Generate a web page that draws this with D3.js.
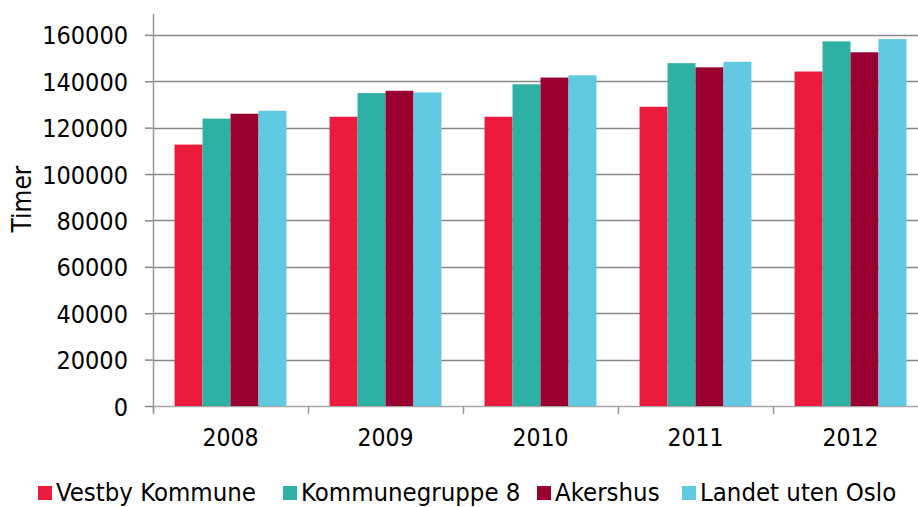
<!DOCTYPE html>
<html>
<head>
<meta charset="utf-8">
<script src="https://cdn.jsdelivr.net/npm/d3@7"></script>
<style>
  body { margin: 0; background: #fff; }
  text { font-family: "DejaVu Sans Condensed", "DejaVu Sans", sans-serif; fill: #000; }
</style>
</head>
<body>
<script>
var years = ["2008", "2009", "2010", "2011", "2012"];
var seriesNames = ["Vestby Kommune", "Kommunegruppe 8", "Akershus", "Landet uten Oslo"];
var vestby = [112700, 124700, 124700, 129000, 144200];
var gruppe8 = [123900, 134900, 138700, 147800, 157200];
var akershus = [126000, 135900, 141600, 146000, 152500];
var landet = [127300, 135200, 142600, 148400, 158200];
var yTicks = [0, 20000, 40000, 60000, 80000, 100000, 120000, 140000, 160000];
var colors = ["#ED1B3B", "#2EB0A4", "#990030", "#62C9E2"];

var seriesValues = [vestby, gruppe8, akershus, landet];
var data = years.map(function(yr, i) {
  return { year: yr, values: seriesNames.map(function(s, j) { return { name: s, value: seriesValues[j][i], color: colors[j] }; }) };
});

var width = 918, height = 507;
var plotLeft = 153, plotRight = 928, plotTop = 14, plotBottom = 406;

var svg = d3.select("body").append("svg")
  .attr("width", width)
  .attr("height", height);

var x0 = d3.scaleBand().domain(years).range([plotLeft, plotRight]).padding(0);
var x1 = d3.scaleBand().domain(seriesNames).range([0, x0.bandwidth()]).paddingInner(0).paddingOuter(0.77);
var y = d3.scaleLinear().domain([0, 169000]).range([plotBottom, plotTop]);

// gridlines
svg.append("g").selectAll("line")
  .data(yTicks)
  .enter().append("line")
  .attr("x1", plotLeft).attr("x2", width)
  .attr("y1", function(d) { return Math.round(y(d)) + 0.5; })
  .attr("y2", function(d) { return Math.round(y(d)) + 0.5; })
  .attr("stroke", function(d) { return d === 0 ? "#a6a6a6" : "#888"; })
  .attr("stroke-width", 1.5);

// bars
var groups = svg.append("g").selectAll("g")
  .data(data)
  .enter().append("g")
  .attr("transform", function(d) { return "translate(" + x0(d.year) + ",0)"; });

groups.selectAll("rect")
  .data(function(d) { return d.values; })
  .enter().append("rect")
  .attr("x", function(d) { return x1(d.name); })
  .attr("y", function(d) { return y(d.value); })
  .attr("width", x1.bandwidth())
  .attr("height", function(d) { return y(0) - y(d.value); })
  .attr("fill", function(d) { return d.color; });

// y axis
var yAxis = svg.append("g")
  .attr("transform", "translate(" + plotLeft + ",0)")
  .call(d3.axisLeft(y).tickValues(yTicks).tickSize(8).tickPadding(17).tickFormat(d3.format("d")));
yAxis.select(".domain").remove();
yAxis.selectAll(".tick line").attr("stroke", "#888").attr("stroke-width", 1.5);
yAxis.selectAll(".tick text").attr("font-size", "25px").attr("dy", "0.36em")
  .style("font-family", "'DejaVu Sans Condensed', sans-serif");
svg.append("line")
  .attr("x1", plotLeft + 0.5).attr("x2", plotLeft + 0.5)
  .attr("y1", plotTop).attr("y2", plotBottom + 7)
  .attr("stroke", "#999").attr("stroke-width", 1.5);

// x axis
var xAxis = svg.append("g")
  .attr("transform", "translate(0," + (Math.round(y(0)) + 0.5) + ")")
  .call(d3.axisBottom(x0).tickSize(0).tickPadding(22));
xAxis.select(".domain").remove();
xAxis.selectAll(".tick text").attr("font-size", "24.5px")
  .style("font-family", "'DejaVu Sans Condensed', sans-serif");
svg.append("g").selectAll("line")
  .data(years)
  .enter().append("line")
  .attr("x1", function(d) { return x0(d) + 0.5; })
  .attr("x2", function(d) { return x0(d) + 0.5; })
  .attr("y1", plotBottom).attr("y2", plotBottom + 8)
  .attr("stroke", "#999").attr("stroke-width", 1.5);

// y title
svg.append("text")
  .attr("transform", "translate(31," + 199 + ") rotate(-90)")
  .attr("text-anchor", "middle")
  .attr("font-size", "26px")
  .text("Timer");

// legend
var legendX = [38, 283, 537, 682];
var legend = svg.append("g").selectAll("g")
  .data(seriesNames)
  .enter().append("g")
  .attr("transform", function(d, i) { return "translate(" + legendX[i] + ",486)"; });
legend.append("rect")
  .attr("width", 14).attr("height", 14)
  .attr("fill", function(d, i) { return colors[i]; });
legend.append("text")
  .attr("x", 18).attr("y", 15)
  .attr("font-size", "25.5px")
  .text(function(d) { return d; });
</script>
</body>
</html>
